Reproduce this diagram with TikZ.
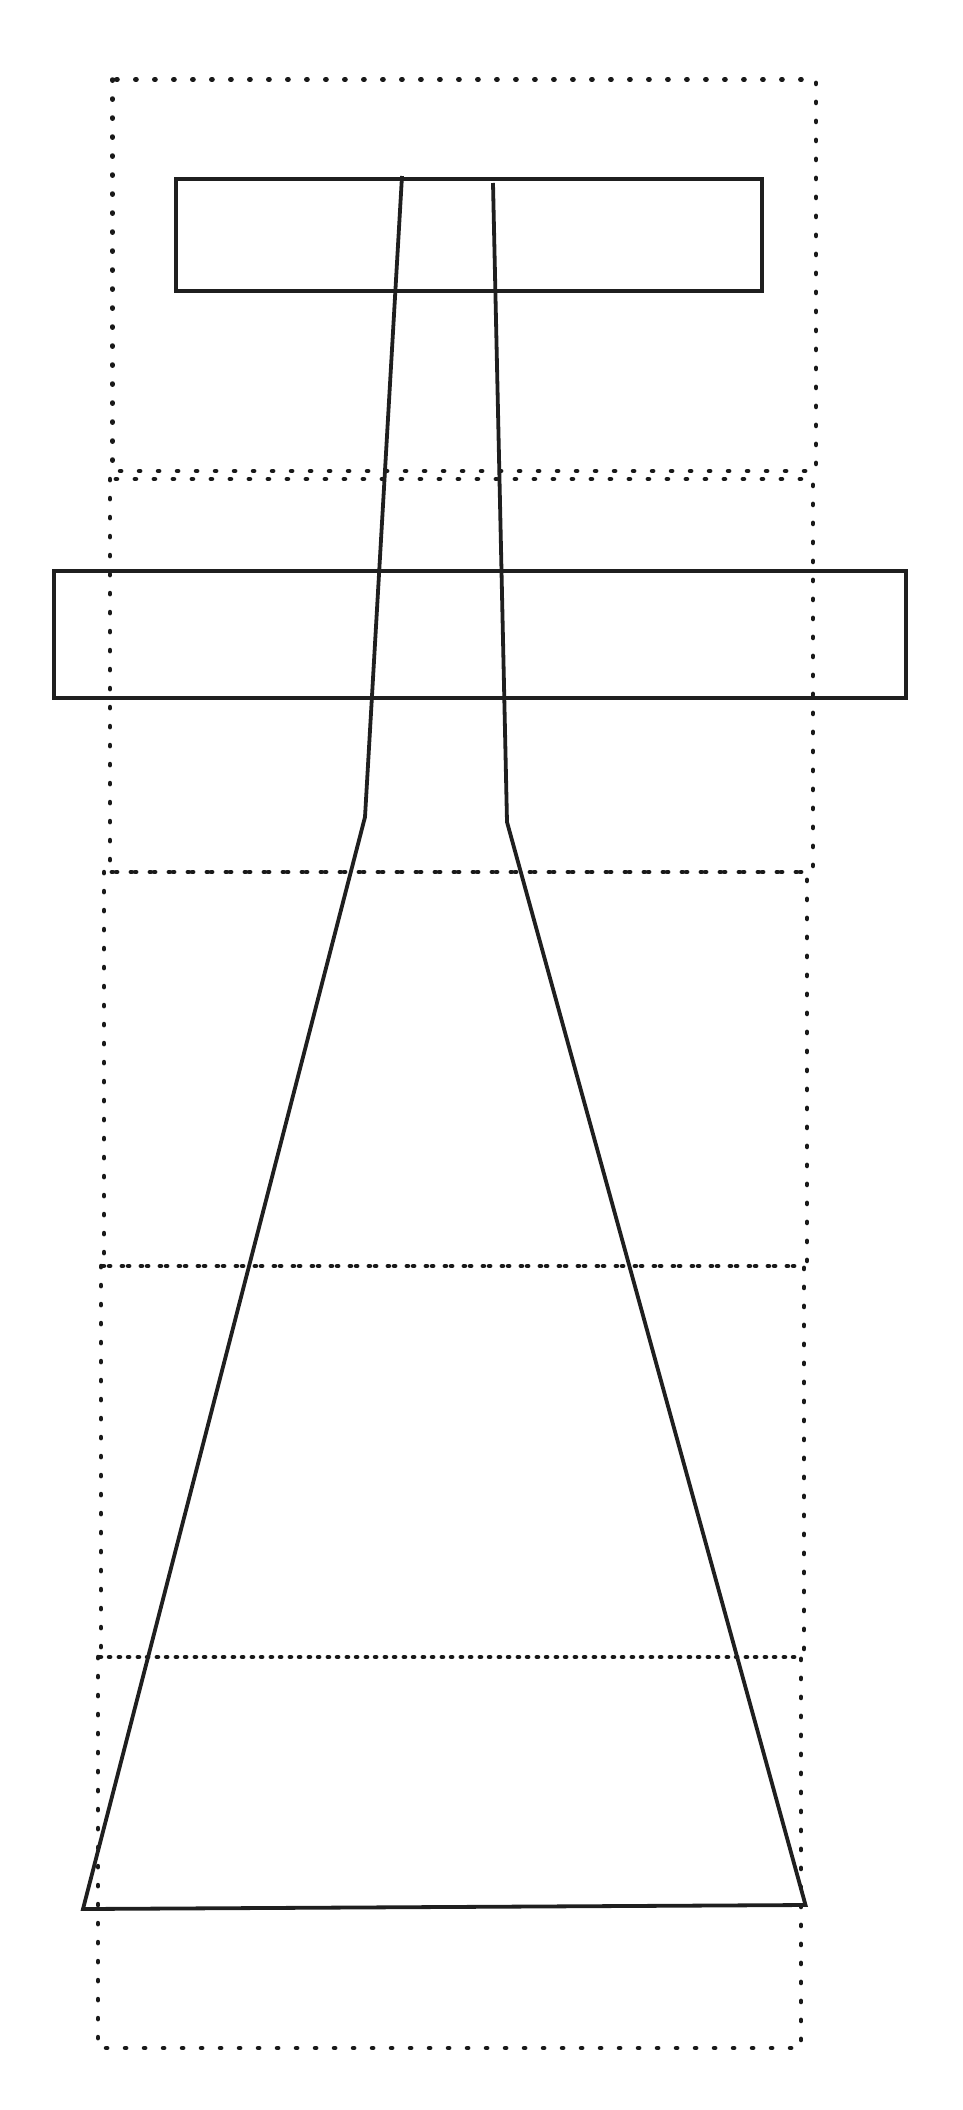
\documentclass[tikz,border=0pt]{standalone}
\begin{document}
\begin{tikzpicture}[x=1pt,y=-1pt,
  solidline/.style={draw=black!88, line width=3.8pt, line join=miter},
  dotline/.style={draw=black!90, line width=4.5pt, line cap=round, dash pattern=on 1.2pt off 17.8pt}]
\useasboundingbox (0,0) rectangle (962,2110);
% dotted frames
\draw[dotline] (112.5,79.5) rectangle (816,471);
\draw[dotline] (110,479) rectangle (813,872);
\draw[dotline] (104,872) rectangle (807,1266);
\draw[dotline] (101,1266) rectangle (804,1657);
\draw[dotline] (98,1657) rectangle (801,2048);
% solid rectangles
\draw[solidline] (176,179) rectangle (762,291);
\draw[solidline] (54,571) rectangle (906,698);
% outline
\draw[solidline] (402,176) -- (365,817) -- (83,1909) -- (805.5,1905) -- (507,822) -- (493,183);
\end{tikzpicture}
\end{document}
